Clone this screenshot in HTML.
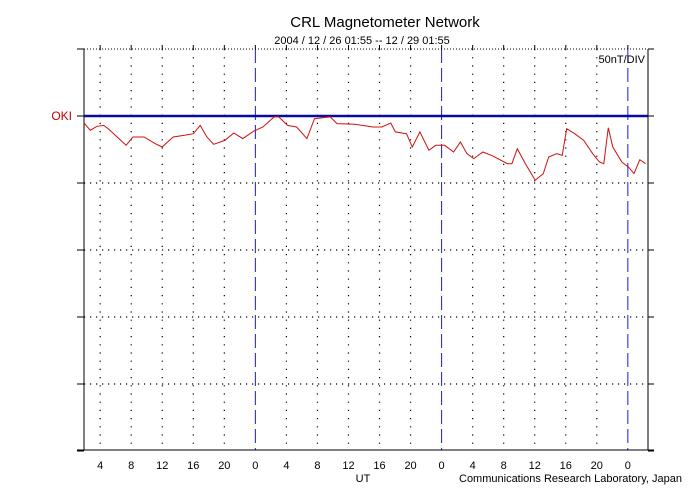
<!DOCTYPE html>
<html><head><meta charset="utf-8"><style>
html,body{margin:0;padding:0;background:#fff;}
svg{display:block;font-family:"Liberation Sans",sans-serif;}
</style></head><body>
<svg id="chart" width="700" height="500" viewBox="0 0 700 500">
<text x="385" y="27" font-size="15" text-anchor="middle" fill="#000">CRL Magnetometer Network</text>
<text x="362" y="44" font-size="11" text-anchor="middle" fill="#000">2004 / 12 / 26   01:55 -- 12 / 29   01:55</text>
<g id="grid"></g>
<g id="axes"></g>
<text x="645" y="63" font-size="11" text-anchor="end" fill="#000">50nT/DIV</text>
<text x="72" y="120" font-size="12" text-anchor="end" fill="#c00000">OKI</text>
<g id="series"></g>
<text x="363" y="482" font-size="11" text-anchor="middle" fill="#000">UT</text>
<text x="459" y="482" font-size="11" fill="#000">Communications Research Laboratory, Japan</text>
</svg>
<script>
const hours=[0.06,0.81,1.68,2.54,3.12,4.28,5.43,6.30,7.75,9.19,10.06,11.50,12.95,14.10,14.97,15.84,16.71,18.15,19.31,20.46,21.91,23.06,24.51,25.09,26.24,27.40,28.73,29.71,31.73,32.60,34.91,37.23,38.38,39.54,40.12,41.56,42.31,43.29,44.45,45.32,46.47,47.63,48.50,49.36,50.23,51.39,52.54,54.57,55.14,55.84,56.88,58.15,59.19,59.88,60.92,61.62,62.20,63.24,64.39,65.55,66.42,66.99,67.57,68.15,69.31,70.17,70.87,71.62,72.37];
const nT=[-5.7,-10.7,-7.7,-7.0,-9.5,-15.7,-21.9,-15.7,-15.7,-20.7,-23.1,-15.7,-14.4,-13.2,-7.0,-15.7,-21.1,-18.2,-12.7,-16.9,-11.2,-8.2,-0.7,-0.7,-7.0,-8.2,-16.9,-2.0,-0.7,-5.7,-6.2,-8.2,-8.2,-5.2,-11.9,-13.2,-23.1,-11.9,-25.6,-21.9,-21.9,-26.9,-19.4,-28.1,-31.8,-26.9,-29.4,-35.6,-35.6,-24.4,-35.6,-48.0,-43.0,-30.6,-28.1,-29.4,-9.5,-13.2,-18.2,-28.1,-34.3,-35.6,-8.7,-23.1,-34.3,-38.1,-43.0,-32.6,-35.6];
const tickLabels=["4","8","12","16","20","0","4","8","12","16","20","0","4","8","12","16","20","0"];
const startHour=1.917;
const NS="http://www.w3.org/2000/svg";
const L=84,R=648,T=49,B=450,base=116;
function xS(t){return L+t*7.76;}
function yS(v){return base-v*67/50;}
function mk(tag,attrs,parent){const e=document.createElementNS(NS,tag);for(const k in attrs)e.setAttribute(k,attrs[k]);parent.appendChild(e);return e;}
const grid=document.getElementById('grid'),axes=document.getElementById('axes'),series=document.getElementById('series');
[1,2,3,4,5].forEach(i=>{
  const y=base+67*(i);
  if(y<B){const l=mk('line',{x1:L,x2:R,y1:y,y2:y,stroke:'#000','stroke-width':1.2,'stroke-dasharray':'1.2 4.8'},grid);
  
  }
});
tickLabels.forEach((lab,i)=>{
  const t=(i+1)*4-startHour;
  const x=xS(t);
  const isDay=lab==="0";
  const g=mk('line',{x1:x,x2:x,y1:T,y2:B,stroke:isDay?'#1a1ae0':'#000','stroke-width':isDay?1:1.2,'stroke-dasharray':isDay?'14 5':'1.2 7'},grid);
  
  
  mk('line',{x1:x,x2:x,y1:T-4,y2:T,stroke:'#000'},axes);
  const tx=mk('text',{x:x,y:469,'font-size':11,'text-anchor':'middle',fill:'#000'},axes);
  tx.textContent=lab;
  
  
});
mk('line',{x1:L,x2:L,y1:T,y2:B,stroke:'#000','stroke-width':1},axes);
mk('line',{x1:R,x2:R,y1:T,y2:B,stroke:'#000','stroke-width':1},axes);
mk('line',{x1:L,x2:R,y1:T,y2:T,stroke:'#000','stroke-width':1,'stroke-dasharray':'1 2'},axes);
mk('line',{x1:77,x2:654,y1:B,y2:B,stroke:'#000','stroke-width':1},axes);
[0,1,2,3,4,5,6].forEach(i=>{const y=T+i*67;
  mk('line',{x1:77,x2:L,y1:y,y2:y,stroke:'#000'},axes);
  mk('line',{x1:R,x2:654,y1:y,y2:y,stroke:'#000'},axes);});
const bl=mk('line',{x1:L,x2:R,y1:base,y2:base,stroke:'#0a0aa0','stroke-width':2.5},series);


const pts=hours.map((h,i)=>xS(h).toFixed(1)+','+yS(nT[i]).toFixed(1)).join(' ');
const pl=mk('polyline',{points:pts,fill:'none',stroke:'#d01010','stroke-width':1},series);


</script>
</body></html>
